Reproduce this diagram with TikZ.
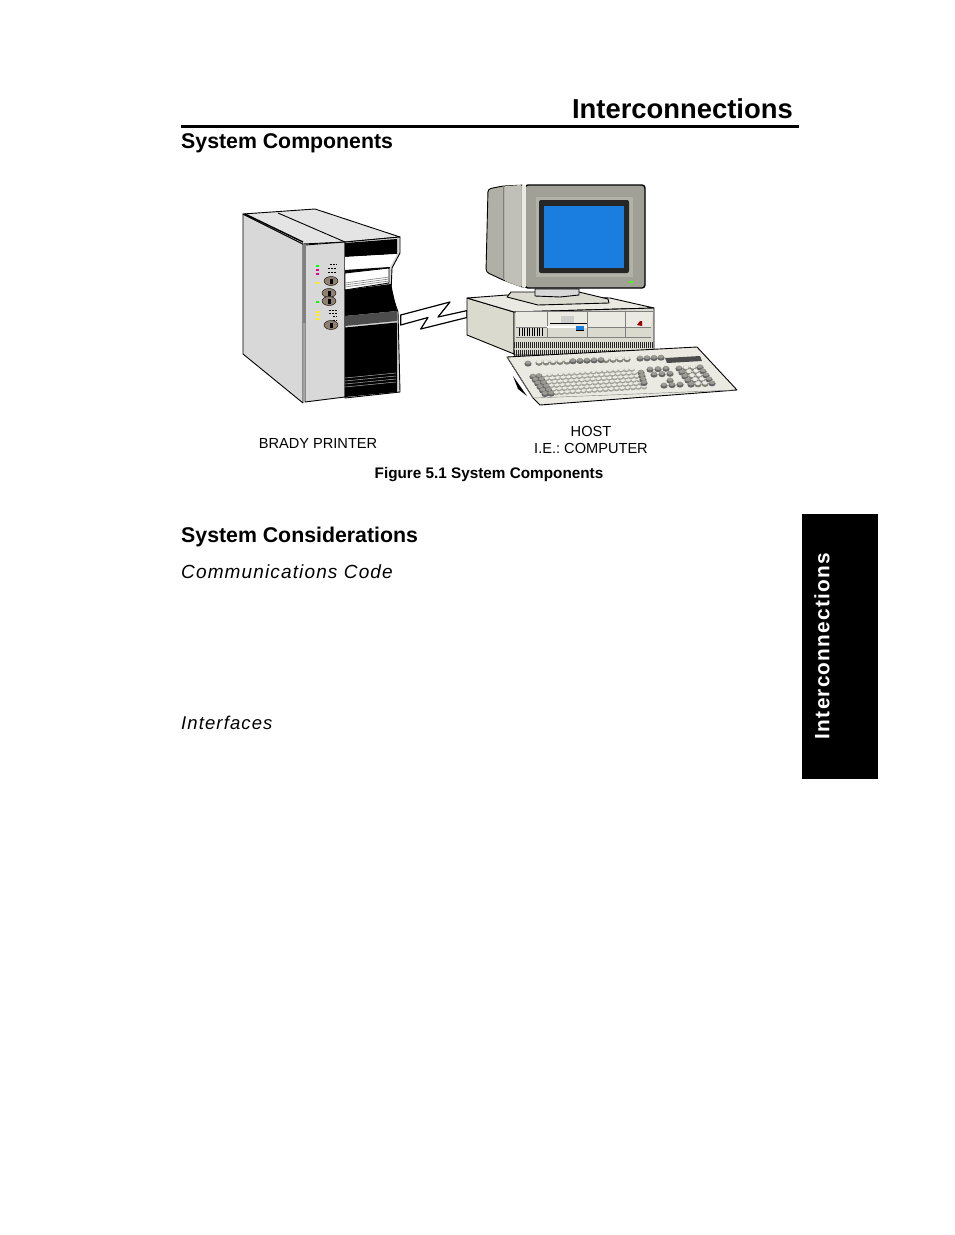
\documentclass[tikz,border=0pt]{standalone}
\usepackage{fontspec}
\setmainfont{Liberation Sans}
\newfontfamily\spacedfont[LetterSpace=6]{Liberation Sans}
\usetikzlibrary{positioning, shapes.geometric}
\definecolor{casegray}{RGB}{216,216,216}
\definecolor{bezelgray}{RGB}{160,160,150}
\definecolor{bevelgray}{RGB}{178,178,168}
\definecolor{backgray}{RGB}{176,176,166}
\definecolor{unitgray}{RGB}{218,218,206}
\definecolor{baygray}{RGB}{234,234,226}
\definecolor{keygray}{RGB}{130,130,120}
\definecolor{screenblue}{RGB}{26,126,224}
\tikzset{
  heading/.style={anchor=west, inner sep=0pt, font=\fontsize{21.3}{24}\selectfont\bfseries},
  subheading/.style={anchor=west, inner sep=0pt, font=\fontsize{19}{22}\selectfont\spacedfont\itshape},
  devicelabel/.style={inner sep=0pt, align=center, font=\fontsize{14.6}{17}\selectfont\frenchspacing},
  part/.style={draw=black, line width=0.9pt, line join=round},
  panelbutton/.style={draw=black, fill=gray!75!brown, ellipse, inner sep=0pt, minimum width=14pt, minimum height=9pt}
}
\newcommand{\lightkey}[2]{\fill[keygray!75!white] ({#1},{#2+0.6}) ellipse (2.9pt and 2pt); \fill[baygray] ({#1},{#2-0.4}) ellipse (2.2pt and 1.3pt);}
\newcommand{\bigkey}[2]{\fill[keygray] ({#1},{#2+0.8}) ellipse (3.6pt and 3pt); \fill[baygray] ({#1},{#2-0.5}) ellipse (2.8pt and 2pt);}
\newcommand{\darkkey}[2]{\fill[black!60] ({#1},{#2+0.8}) ellipse (3.6pt and 2.8pt); \fill[keygray!80!white] ({#1},{#2-0.5}) ellipse (2.8pt and 1.9pt);}
\begin{document}
\begin{tikzpicture}[x=1pt, y=-1pt]
  \useasboundingbox (0,0) rectangle (954,1235);
  % page text
  \node[anchor=east, inner sep=0pt, font=\fontsize{27.4}{32}\selectfont\bfseries] (title) at (793,108.5) {Interconnections};
  \fill (181,124.5) rectangle (799,127.5);
  \node[heading] (components) at (181,143.5) {System Components};
  \node[heading] (considerations) at (181,536.5) {System Considerations};
  \node[subheading] (code) at (181,571.5) {Communications Code};
  \node[subheading, font=\fontsize{18.5}{22}\selectfont\spacedfont\itshape] (interfaces) at (181,722.5) {Interfaces};
  \fill[black] (802,514) rectangle (878,779);
  \node[rotate=90, inner sep=0pt, text=white, font=\fontsize{20.8}{25}\selectfont\spacedfont\bfseries] (tab) at (822,646) {Interconnections};

  % printer
  \draw[part, fill=casegray] (243,214) -- (303,244) -- (303,403) -- (243,354) -- cycle;
  \draw[part, fill=casegray!70!white] (243,214) -- (315,209) -- (400,237) -- (345,242) -- (303,244) -- cycle;
  \draw[part] (278,213) -- (345,242);
  \draw[line width=1.4pt] (245,214) -- (303,242);
  \draw[part, fill=casegray] (305,245) -- (345,242) -- (345,397) -- (305,402) -- cycle;
  \fill[gray] (303,244) rectangle (305.5,323);
  \draw[part, fill=casegray] (345,242) -- (400,237) -- (400,253) -- (392,268) -- (391,292) -- (398,312) -- (400,392) -- (345,398) -- cycle;
  \fill[black] (345,243) -- (397,239) -- (397,254) -- (345,257) -- cycle;
  \fill[white] (345,257) -- (397,254) -- (390,267) -- (345,270) -- cycle;
  \fill[black] (345,270) -- (390,267) -- (389,269) -- (345,273) -- cycle;
  \draw[part, fill=white] (345,273) -- (389,268) -- (389,283) -- (345,290) -- cycle;
  \foreach \lineoff in {0,2,4}
    \draw[gray, line width=0.6pt] (345,283+\lineoff) -- (389,277+\lineoff);
  \fill[black] (345,290) -- (391,284) -- (397,311) -- (345,316) -- cycle;
  \fill[black!70] (345,316) -- (397,311) -- (397,321) -- (345,326) -- cycle;
  \fill[black] (345,327.5) -- (397,322.5) -- (397,392) -- (345,397) -- cycle;
  \foreach \lineoff in {0,3,6,9}
    \draw[gray!60, line width=0.5pt] (345,378+\lineoff) -- (396,373+\lineoff);

  % printer panel
  \foreach \ledy/\ledcol in {266/green, 270/magenta, 274/magenta, 283/yellow, 302/green, 312/yellow, 315/yellow, 319/yellow}
    \fill[\ledcol] (315.5,\ledy-1.2) rectangle (318.5,\ledy+1.2);
  \foreach \marky/\markx in {264/330,268/328,272/328,310/329,313/329,316/333,320/333}
    \draw[line width=0.9pt, dash pattern=on 2pt off 1pt] (\markx,\marky) -- (337,\marky);
  \node[panelbutton] (pause) at (331,281) {};
  \node[panelbutton] (feed) at (329,293) {};
  \node[panelbutton] (cancel) at (329,301) {};
  \node[panelbutton] (power) at (331,325) {};
  \foreach \btn in {pause,feed,cancel,power}
    \fill (\btn) +(-1.5,-2.5) rectangle +(1.5,2.5);

  % link between printer and host
  \draw[part, line width=1.2pt, fill=white] (400.7,315) -- (450,302) -- (438,317) -- (467,310.6) -- (467,317.5) -- (420.7,329) -- (428,317.5) -- (400.7,325) -- cycle;

  % system unit
  \draw[part, fill=unitgray] (467,298) -- (514,312) -- (514,354) -- (467,335) -- cycle;
  \draw[part, fill=baygray] (467,298) -- (507,295) -- (610,298) -- (654,308) -- (514,312) -- cycle;
  \draw[part, fill=unitgray] (514,312) -- (654,308) -- (654,355) -- (514,355) -- cycle;
  \fill[baygray] (516,311) -- (653,311) -- (651,327) -- (516,327) -- cycle;
  \draw[gray] (516,311) -- (653,311) (516,327) -- (547,327) (516,337) -- (651,337) (587,327) -- (651,327);
  \draw[gray] (547,311) -- (547,337) (587,311) -- (587,337) (625,311) -- (625,337);
  \fill[white] (547,326) rectangle (587,328);
  \fill[gray!40] (561,316) rectangle (574,324);
  \draw[line width=1pt] (550,323.5) -- (587,323.5);
  \fill[screenblue] (576,326) rectangle (584,330);
  \draw (576,330) -- (584,330);
  \fill[red!60!black] (637,325) -- (640,321) -- (642,321) -- (642,326) -- cycle;
  \foreach \ventx in {519,521.5,...,542}
    \fill (\ventx,328) rectangle (\ventx+1.3,336);
  \foreach \gilly in {342,350}
    \foreach \gillx in {514,516,...,652}
      \fill[black!85] (\gillx,\gilly) rectangle (\gillx+1.3,\gilly+6);

  % monitor
  \draw[part, fill=backgray, rounded corners=3pt] (525,185) -- (503,186) -- (488,189) -- (486,272) -- (503,280) -- (525,288) -- cycle;
  \draw[gray] (503,186) -- (503,280);
  \fill[backgray!80!white] (505,186) -- (521,185) -- (521,287) -- (505,281) -- cycle;
  \draw[line width=1.4pt, fill=bezelgray, rounded corners=3pt] (525,185) rectangle (645,288);
  \fill[baygray] (522,185) rectangle (526,287);
  \fill[bevelgray] (536,197) rectangle (633,277);
  \fill[black!85, rounded corners=2pt] (539,200) rectangle (629,273);
  \fill[screenblue] (544,206) rectangle (624,268);
  \fill[green!70!yellow] (629,281) rectangle (633,283);

  % stand
  \draw[part, fill=unitgray] (507,297) -- (511,292) -- (579,292) -- (608,299) -- (609,303) -- (538,305) -- cycle;
  \draw[part, fill=casegray] (535,289) -- (579,289) -- (579,295) -- (560,297) -- (535,296) -- cycle;

  % keyboard
  \fill[black] (513,376) -- (527,396) -- (518,389) -- cycle;
  \draw[part, fill=baygray] (507,357) -- (697,347) -- (737,390) -- (540,405) -- (533,398) -- cycle;
  \draw[gray] (507,357) -- (533,398) -- (737,390);
  \darkkey{528}{363}
  \foreach \keyx in {539,546,...,567, 606,613,...,627}
    {\bigkey{\keyx}{362-(\keyx-539)*0.04}}
  \foreach \keyx in {573,580,...,601, 640,647,...,661}
    {\darkkey{\keyx}{362-(\keyx-539)*0.04}}
  \fill[black!70] (665,358) -- (700,356) -- (702,361) -- (667,363) -- cycle;
  \foreach \rownum in {0,...,5}
    \foreach \keynum in {2,...,18}
      {\lightkey{533+\rownum*2.4+\keynum*5.5}{376+\rownum*3.5-\keynum*0.37}}
  \foreach \rownum in {0,...,5}
    \foreach \keynum in {0,1}
      {\darkkey{533+\rownum*2.4+\keynum*6}{376+\rownum*3.5-\keynum*0.37}}
  \foreach \rownum in {1,2,3,4}
    {\darkkey{640+\rownum*1}{368.5+\rownum*3.5}}
  \foreach \rownum in {0,1}
    \foreach \keynum in {0,1,2}
      {\darkkey{650+\rownum*4+\keynum*8}{369+\rownum*5-\keynum*0.4}}
  \foreach \keyx/\keyy in {670/380, 664/385, 672/384.5, 680/384}
    {\darkkey{\keyx}{\keyy}}
  \foreach \rownum in {0,...,4}
    \foreach \keynum in {1,2}
      {\bigkey{679+\rownum*3+\keynum*7}{368+\rownum*4-\keynum*0.4}}
  \foreach \rownum in {0,...,4}
    \foreach \keynum in {0,3}
      {\darkkey{679+\rownum*3+\keynum*7}{368+\rownum*4-\keynum*0.4}}

  % captions
  \node[devicelabel] (printerlabel) at (318,443) {BRADY PRINTER};
  \node[devicelabel] (hostlabel) at (591,440) {HOST\\I.E.: COMPUTER};
  \node[inner sep=0pt, font=\fontsize{15.3}{17}\selectfont\bfseries] (figcaption) at (489,474.5) {Figure 5.1 System Components};
\end{tikzpicture}
\end{document}
